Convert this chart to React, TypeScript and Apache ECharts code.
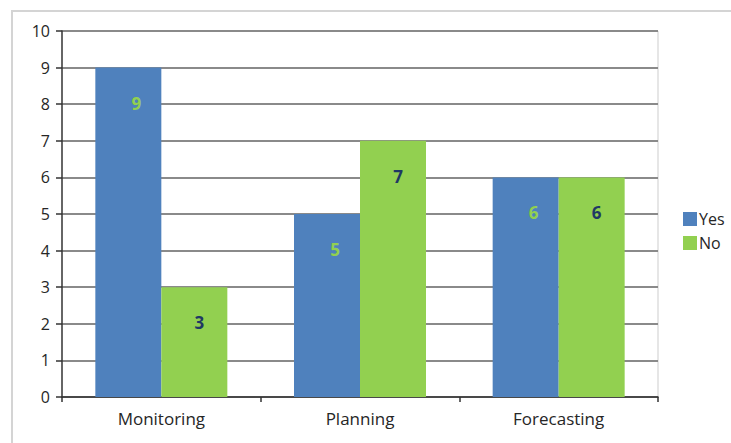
import React, { useEffect, useRef } from "react";
import * as echarts from "echarts";

const categories = ["Monitoring", "Planning", "Forecasting"];
const yesValues = [9, 5, 6];
const noValues = [3, 7, 6];
const seriesNames = ["Yes", "No"];

export default function App() {
  const ref = useRef<HTMLDivElement>(null);
  useEffect(() => {
    if (!ref.current) return;
    const chart = echarts.init(ref.current, null, { renderer: "svg" });
    const font = "'Open Sans', 'Liberation Sans', sans-serif";
    chart.setOption({
      animation: false,
      backgroundColor: "#ffffff",
      textStyle: { fontFamily: font },
      graphic: [
        {
          type: "rect",
          shape: { x: 12, y: 11, width: 740, height: 450 },
          style: { fill: "none", stroke: "#d4d4d4", lineWidth: 2 },
          silent: true,
        },
        {
          type: "line",
          shape: { x1: 658, y1: 31, x2: 658, y2: 397 },
          style: { stroke: "#e6e6e6", lineWidth: 2 },
          silent: true,
        },
      ],
      grid: { left: 62, right: 73, top: 31, bottom: 46 },
      legend: {
        orient: "vertical",
        left: 678,
        top: 206,
        itemWidth: 14,
        itemHeight: 14,
        itemGap: 8,
        icon: "rect",
        data: seriesNames,
        textStyle: { fontSize: 16, color: "#262626", fontFamily: font, padding: [0, 0, 0, -3] },
      },
      xAxis: {
        type: "category",
        data: categories,
        axisLine: { lineStyle: { color: "#333", width: 1.5 } },
        axisTick: { show: true, length: 5, lineStyle: { color: "#333", width: 1.5 } },
        axisLabel: { fontSize: 17, color: "#262626", margin: 13, fontFamily: font },
      },
      yAxis: {
        type: "value",
        min: 0,
        max: 10,
        interval: 1,
        axisLine: { show: true, lineStyle: { color: "#333", width: 1.5 } },
        axisTick: { show: true, length: 6, lineStyle: { color: "#333", width: 1.5 } },
        axisLabel: { fontSize: 16, color: "#262626", margin: 12, fontFamily: font },
        splitLine: { lineStyle: { color: "#8a8a8a", width: 2 } },
      },
      series: [
        {
          name: seriesNames[0],
          type: "bar",
          data: yesValues,
          barWidth: 66,
          barGap: "0%",
          itemStyle: { color: "#4F81BD" },
          label: {
            show: true,
            position: "insideTop",
            distance: 27,
            offset: [8, 0],
            fontSize: 17,
            fontWeight: "bold",
            color: "#92D050",
            fontFamily: font,
          },
        },
        {
          name: seriesNames[1],
          type: "bar",
          data: noValues,
          barWidth: 66,
          barGap: "0%",
          itemStyle: { color: "#92D050" },
          label: {
            show: true,
            position: "insideTop",
            distance: 27,
            offset: [5, 0],
            fontSize: 17,
            fontWeight: "bold",
            color: "#1F3864",
            fontFamily: font,
          },
        },
      ],
    });
    return () => chart.dispose();
  }, []);
  return (
    <div
      ref={ref}
      style={{ position: "fixed", left: 0, top: 0, width: 731, height: 443 }}
    />
  );
}
